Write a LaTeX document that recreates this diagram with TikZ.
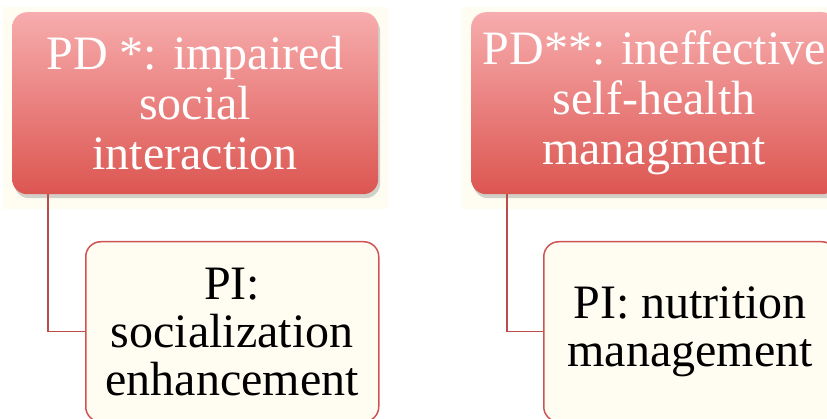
\documentclass[tikz,border=0pt]{standalone}
\usepackage{fontspec}
\setmainfont{Liberation Serif}
\usetikzlibrary{shadows}
\definecolor{pdtop}{RGB}{247,172,173}
\definecolor{pdbot}{RGB}{220,86,81}
\definecolor{cream}{RGB}{255,253,241}
\definecolor{piline}{RGB}{206,84,84}
\begin{document}
\begin{tikzpicture}[x=1pt,y=-1pt,
    pd/.style={rectangle,rounded corners=15pt,anchor=north west,align=center,
        top color=pdtop,bottom color=pdbot,text=white,
        minimum width=366pt,minimum height=182pt,inner sep=0pt,
        font=\fontsize{48}{50}\selectfont,
        drop shadow={shadow xshift=2pt,shadow yshift=-4pt,opacity=.35}},
    pi/.style={rectangle,rounded corners=15pt,anchor=north west,align=center,
        draw=piline,line width=1.5pt,fill=cream,
        minimum width=293pt,minimum height=180pt,inner sep=0pt,
        font=\fontsize{48}{48}\selectfont},
    link/.style={draw=piline!90!black,line width=1.4pt}]
    \clip (0,0) rectangle (827,419);
    \fill[cream] (3,7) rectangle (388,209);
    \fill[cream] (462,7) rectangle (827,209);
    \node[pd] (pdone) at (12,12) {PD *: impaired\\social\\interaction};
    \node[pd] (pdtwo) at (471,12) {PD**: ineffective\\self-health\\managment};
    \node[pi] (pione) at (85,241) {PI:\\socialization\\enhancement};
    \node[pi] (pitwo) at (543,241) {PI: nutrition\\management};
    \draw[link] ([xshift=36pt]pdone.south west) |- (pione.west);
    \draw[link] ([xshift=36pt]pdtwo.south west) |- (pitwo.west);
\end{tikzpicture}
\end{document}
